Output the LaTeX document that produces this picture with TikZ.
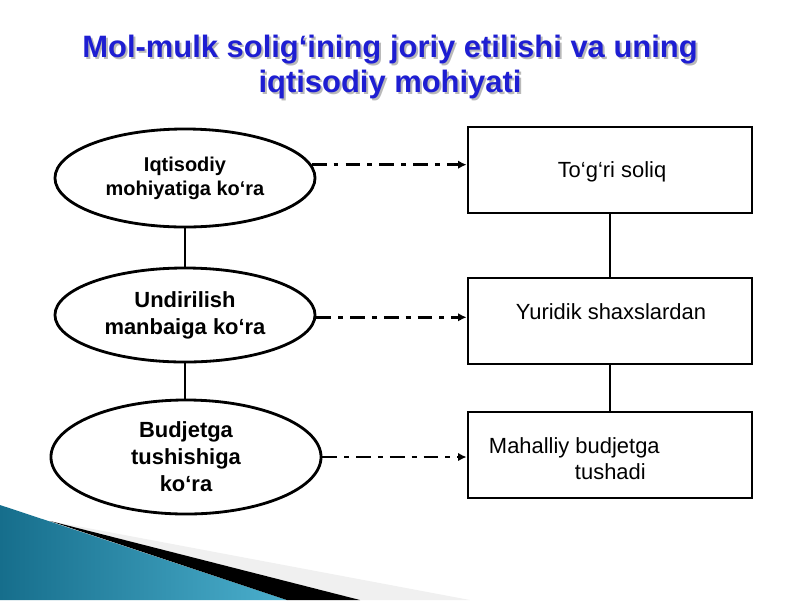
\documentclass[tikz,border=0pt]{standalone}
\usepackage{fontspec}
\setmainfont{Liberation Sans}
\usetikzlibrary{shapes.geometric,arrows.meta}
\definecolor{titleblue}{RGB}{30,30,210}
\definecolor{tealdark}{RGB}{22,110,140}
\definecolor{teallight}{RGB}{75,175,205}

\begin{document}
\begin{tikzpicture}[x=0.025cm, y=-0.025cm,
        ell/.style={ellipse, draw, line width=2pt, inner sep=0pt, align=center,
            font=\bfseries\fontsize{15.6}{19.2}\selectfont},
        box/.style={rectangle, draw, line width=2pt, minimum width=7.1cm, minimum height=2.15cm},
        boxtext/.style={font=\fontsize{15.6}{18.5}\selectfont, align=left},
        link/.style={line width=2pt},
        dashdot/.style={line width=2pt, dash pattern=on 10.5pt off 5pt on 3.5pt off 5pt,
            -{Latex[length=6pt,width=6pt]}}
    ]
    \useasboundingbox (0,0) rectangle (800,600);

    % title
    \node[font=\bfseries\fontsize{22}{24.2}\selectfont, align=center, text=gray!55] (titleshadow) at (392,69)
        {Mol-mulk solig‘ining joriy etilishi va uning\\iqtisodiy mohiyati};
    \node[font=\bfseries\fontsize{22}{24.2}\selectfont, align=center, text=titleblue] (title) at (390,67)
        {Mol-mulk solig‘ining joriy etilishi va uning\\iqtisodiy mohiyati};

    % corner
    \fill[gray!12] (50,521) -- (470,600) -- (360,600) -- cycle;
    \shade[left color=tealdark, right color=teallight] (0,505) -- (287,600) -- (0,600) -- cycle;
    \fill[black] (50,521) -- (360,600) -- (287,600) -- cycle;

    \node[ell, minimum width=6.5cm, minimum height=2.45cm,
        font=\bfseries\fontsize{14.2}{17}\selectfont] (e1) at (185,178) {Iqtisodiy\\mohiyatiga ko‘ra};
    \node[ell, minimum width=6.5cm, minimum height=2.35cm] (e2) at (185,315) {Undirilish\\manbaiga ko‘ra};
    \node[ell, minimum width=6.75cm, minimum height=2.85cm] (e3) at (186,457) {Budjetga\\tushishiga\\ko‘ra};

    \node[box] (b1) at (610,170) {};
    \node[box] (b2) at (610,321) {};
    \node[box] (b3) at (610,455) {};
    \node[boxtext] (t1) at (612,172) {To‘g‘ri soliq};
    \node[boxtext] (t2) at (611,312) {Yuridik shaxslardan};
    \node[boxtext, anchor=west] (t3) at (484,459) {Mahalliy budjetga\\\hspace*{2.15cm}tushadi};

    \draw[link] (e1) -- (e2);
    \draw[link] (e2.south) -- (e2.south |- e3.north);
    \draw[link] (b1) -- (b2);
    \draw[link] (b2) -- (b3);

    \draw[dashdot] (e1.6) -- (e1.6 -| b1.west);
    \draw[dashdot] (e2.-1) -- (e2.-1 -| b2.west);
    \draw[dashdot] (e3.east) -- (e3.east -| b3.west);
\end{tikzpicture}
\end{document}
